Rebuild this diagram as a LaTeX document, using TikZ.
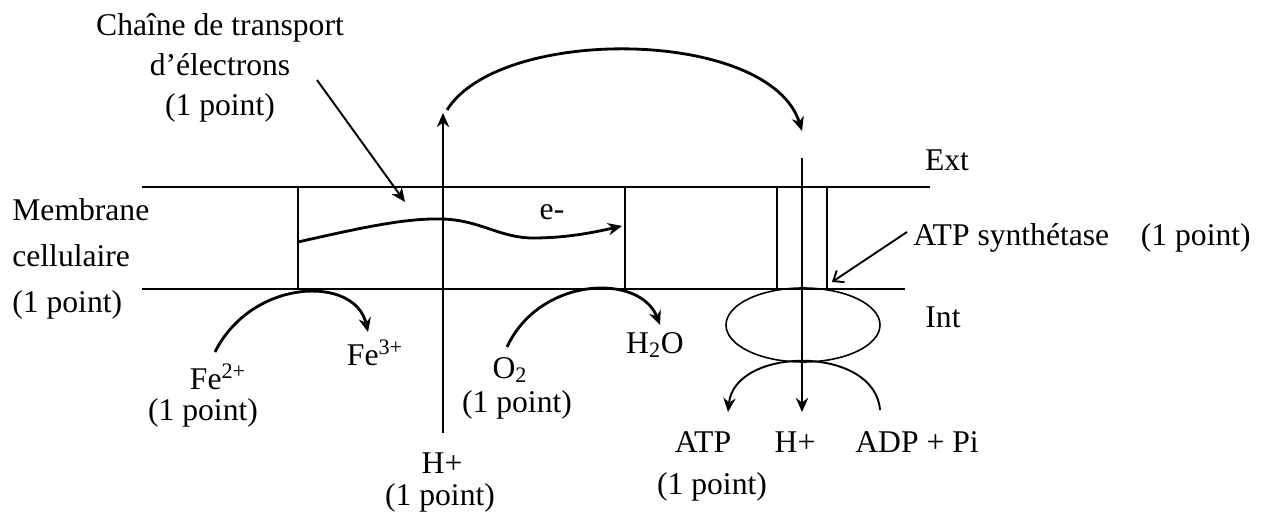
\documentclass[tikz,border=0pt]{standalone}
\usepackage{fontspec}
\setmainfont{Liberation Serif}
\usetikzlibrary{arrows.meta}

\begin{document}
\begin{tikzpicture}[x=0.02cm, y=-0.02cm, >={Stealth[length=8pt,width=7pt]},
  font=\fontsize{18}{22.7}\selectfont,
  memb/.style={line width=1.1pt},
  flow/.style={->, line width=1.6pt},
  lbl/.style={inner sep=0pt}]
\useasboundingbox (0,0) rectangle (1284,519);

% Membrane
\draw[memb] (142,187) coordinate(TL) -- (930,187) coordinate(TR);
\draw[memb] (142,289) coordinate(BL) -- (905,289) coordinate(BR);
\foreach \x in {298,625,777,827}
  \draw[memb] (\x,187) -- (\x,289);

% Labels of the membrane
\node[lbl, anchor=west, align=left, font=\fontsize{18}{26}\selectfont] (memblbl) at (12,259) {Membrane\\cellulaire\\(1 point)};
\node[lbl] (extlbl) at (947,160) {Ext};
\node[lbl] (intlbl) at (943,317) {Int};

% Electron transport chain
\node[lbl, align=center] (chainlbl) at (220,68) {Chaîne de transport\\d’électrons\\(1 point)};
\coordinate (chainfrom) at (317,80);
\coordinate (chainto) at (405,202);
\draw[->, line width=1.1pt] (chainfrom) -- (chainto);
\coordinate (estart) at (298,242);
\coordinate (eend) at (622,226);
\draw[flow] (estart) .. controls (360,228) and (405,218) .. (442,219)
  .. controls (480,220) and (500,238) .. (533,238)
  .. controls (570,238) and (600,231) .. (eend);
\node[lbl] (elbl) at (552,212) {e-};

% Fe2+ -> Fe3+
\node[lbl] (fetwo) at (218,377) {Fe\textsuperscript{2+}};
\node[lbl] (fetwopt) at (203,413) {(1 point)};
\node[lbl] (fethree) at (375,353) {Fe\textsuperscript{3+}};
\coordinate (festart) at (215,352);
\coordinate (feend) at (368,332);
\draw[flow] (festart) .. controls (252,278) and (355,275) .. (feend);

% O2 -> H2O
\node[lbl] (otwo) at (510,370) {O\textsubscript{2}};
\node[lbl] (otwopt) at (517,405) {(1 point)};
\node[lbl] (water) at (655,345) {H\textsubscript{2}O};
\coordinate (ostart) at (507,347);
\coordinate (oend) at (660,325);
\draw[flow] (ostart) .. controls (540,276) and (640,273) .. (oend);

% Protons pumped out
\node[lbl] (hplus) at (442,463) {H+};
\node[lbl] (hpluspt) at (440,498) {(1 point)};
\coordinate (hin) at (443,433);
\coordinate (hup) at (443,113);
\draw[flow] (hin) -- (hup);
\coordinate (loopfrom) at (447,110);
\coordinate (loopto) at (802,131);
\draw[flow] (loopfrom) .. controls (500,25) and (770,28) .. (loopto);

% ATP synthase
\draw[line width=0.9pt] (803,325) coordinate(head) ellipse [x radius=77, y radius=37];
\node[lbl, anchor=west] (atpslbl) at (913,238) {ATP synthétase\hspace{1em}(1 point)};
\coordinate (atpsto) at (832,282);
\draw[-{Straight Barb[length=5pt,width=8pt]}, line width=1.1pt] (atpslbl.west) ++(-6,-6) -- (atpsto);
\coordinate (hdownfrom) at (802,158);
\coordinate (hdownto) at (802,412);
\draw[flow] (hdownfrom) -- (hdownto);
\coordinate (adpfrom) at (880,410);
\coordinate (atpto) at (728,412);
\draw[->, line width=1.1pt] (adpfrom) .. controls (875,345) and (735,346) .. (atpto);
\node[lbl] (atp) at (703,442) {ATP};
\node[lbl] (hout) at (795,442) {H+};
\node[lbl] (adp) at (917,442) {ADP + Pi};
\node[lbl] (atppt) at (712,487) {(1 point)};
\end{tikzpicture}
\end{document}
